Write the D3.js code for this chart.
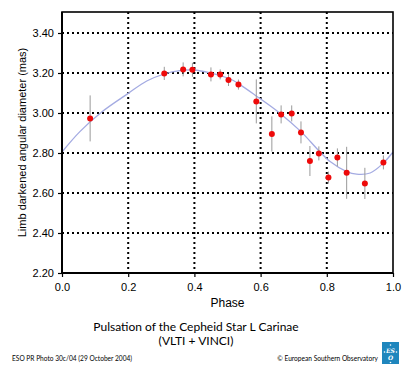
<!DOCTYPE html>
<html>
<head>
<meta charset="utf-8">
<script src="https://cdn.jsdelivr.net/npm/d3@7/dist/d3.min.js"></script>
<style>
  html, body { margin: 0; padding: 0; background: #fff; }
  svg { display: block; }
</style>
</head>
<body>
<svg id="chart" width="405" height="369"></svg>
<script>
// Interferometric measurements of L Carinae (VLTI + VINCI)
const phases   = [0.085, 0.309, 0.366, 0.394, 0.450, 0.478, 0.503, 0.533, 0.587, 0.634,
                  0.662, 0.694, 0.722, 0.749, 0.776, 0.805, 0.832, 0.860, 0.915, 0.971];
const diameters = [2.973, 3.198, 3.218, 3.216, 3.193, 3.193, 3.165, 3.142, 3.058, 2.895,
                   2.993, 2.998, 2.903, 2.760, 2.798, 2.677, 2.778, 2.701, 2.648, 2.753];
const errors   = [0.115, 0.033, 0.035, 0.035, 0.035, 0.025, 0.030, 0.025, 0.110, 0.088,
                  0.045, 0.040, 0.055, 0.075, 0.035, 0.030, 0.045, 0.130, 0.078, 0.035];

// Fitted pulsation model
const modelPhase = [0.0, 0.054, 0.120, 0.200, 0.256, 0.309, 0.356, 0.397, 0.447, 0.508,
                    0.533, 0.588, 0.659, 0.722, 0.774, 0.810, 0.860, 0.890, 0.931, 0.971, 1.0];
const modelDiam  = [2.805, 2.907, 3.005, 3.098, 3.160, 3.195, 3.212, 3.215, 3.201, 3.170,
                    3.147, 3.084, 2.998, 2.907, 2.815, 2.757, 2.707, 2.694, 2.700, 2.750, 2.805];

const xTicks = [0.0, 0.2, 0.4, 0.6, 0.8, 1.0];
const yTicks = [2.20, 2.40, 2.60, 2.80, 3.00, 3.20, 3.40];

const svg = d3.select("#chart");
const m = { left: 62, right: 393, top: 12, bottom: 273 };

const x = d3.scaleLinear().domain([0, 1]).range([m.left, m.right]);
const y = d3.scaleLinear().domain([2.2, 3.505]).range([m.bottom, m.top]);

const axisFont = "'Liberation Sans', Arial, sans-serif";

// dotted grid
const grid = svg.append("g");
grid.selectAll("line.h").data(yTicks.filter(d => d > 2.2)).join("line")
  .attr("x1", m.left).attr("x2", m.right)
  .attr("y1", d => y(d)).attr("y2", d => y(d))
  .attr("stroke", "#000").attr("stroke-width", 2).attr("stroke-dasharray", "2,3");
grid.selectAll("line.v").data(xTicks.filter(d => d > 0 && d < 1)).join("line")
  .attr("y1", m.top).attr("y2", m.bottom)
  .attr("x1", d => x(d)).attr("x2", d => x(d))
  .attr("stroke", "#000").attr("stroke-width", 2).attr("stroke-dasharray", "2,3");

// model curve
const line = d3.line().x((d, i) => x(modelPhase[i])).y(d => y(d)).curve(d3.curveCatmullRom);
svg.append("path").datum(modelDiam)
  .attr("d", line).attr("fill", "none")
  .attr("stroke", "#a4abe2").attr("stroke-width", 1.3);

// error bars
svg.append("g").selectAll("line").data(phases).join("line")
  .attr("x1", d => x(d)).attr("x2", d => x(d))
  .attr("y1", (d, i) => y(diameters[i] - errors[i]))
  .attr("y2", (d, i) => y(diameters[i] + errors[i]))
  .attr("stroke", "#9a9a9a").attr("stroke-width", 1);

// measurements
svg.append("g").selectAll("circle").data(phases).join("circle")
  .attr("cx", d => x(d)).attr("cy", (d, i) => y(diameters[i]))
  .attr("r", 3).attr("fill", "#ee0a0a");

// frame
svg.append("rect").attr("x", m.left).attr("y", m.top)
  .attr("width", m.right - m.left).attr("height", m.bottom - m.top)
  .attr("fill", "none").attr("stroke", "#000").attr("stroke-width", 1.6);

// axes
const yAxis = svg.append("g").attr("transform", `translate(${m.left},0)`)
  .call(d3.axisLeft(y).tickValues(yTicks).tickFormat(d3.format(".2f")).tickSize(4).tickPadding(4));
const xAxis = svg.append("g").attr("transform", `translate(0,${m.bottom})`)
  .call(d3.axisBottom(x).tickValues(xTicks).tickFormat(d3.format(".1f")).tickSize(4).tickPadding(6));
[yAxis, xAxis].forEach(g => {
  g.select(".domain").attr("stroke", "#000").attr("stroke-width", 2);
  g.selectAll(".tick line").attr("stroke", "#000").attr("stroke-width", 1.2);
  g.selectAll(".tick text").attr("font-family", axisFont).attr("font-size", 11).attr("fill", "#000");
});
yAxis.select(".domain").attr("d", `M0,${m.top}V${m.bottom}`);
xAxis.select(".domain").attr("d", `M${m.left},0H${m.right}`);

// axis titles
svg.append("text").attr("x", (m.left + m.right) / 2).attr("y", 307)
  .attr("text-anchor", "middle").attr("font-family", axisFont).attr("font-size", 12)
  .text("Phase");
svg.append("text")
  .attr("transform", `translate(26,${(m.top + m.bottom) / 2}) rotate(-90)`)
  .attr("text-anchor", "middle").attr("font-family", axisFont).attr("font-size", 11)
  .text("Limb darkened angular diameter (mas)");

// caption
const capFont = "Lato, 'Open Sans', sans-serif";
svg.append("text").attr("x", 196).attr("y", 330.5).attr("text-anchor", "middle")
  .attr("font-family", capFont).attr("font-size", 12).text("Pulsation of the Cepheid Star L Carinae");
svg.append("text").attr("x", 196).attr("y", 344.5).attr("text-anchor", "middle")
  .attr("font-family", capFont).attr("font-size", 12).text("(VLTI + VINCI)");

svg.append("text").attr("x", 12).attr("y", 361)
  .attr("font-family", capFont).attr("font-size", 6.6).text("ESO PR Photo 30c/04 (29 October 2004)");
svg.append("text").attr("x", 378).attr("y", 361).attr("text-anchor", "end")
  .attr("font-family", capFont).attr("font-size", 6.6).text("© European Southern Observatory");

// ESO logo
const logo = svg.append("g").attr("transform", "translate(382,342)");
logo.append("rect").attr("width", 17).attr("height", 22).attr("fill", "#1f86bd");
logo.append("text").attr("x", 8.5).attr("y", 10.5).attr("text-anchor", "middle")
  .attr("font-family", "'DejaVu Serif', serif").attr("font-size", 6).attr("font-style", "italic")
  .attr("font-weight", "bold").attr("fill", "#fff").text("ES");
logo.append("text").attr("x", 8.5).attr("y", 18).attr("text-anchor", "middle")
  .attr("font-family", "'DejaVu Serif', serif").attr("font-size", 6).attr("font-style", "italic")
  .attr("font-weight", "bold").attr("fill", "#fff").text("O");
logo.selectAll("circle").data([[8.5, 3], [2.5, 10], [14.5, 10], [8.5, 20.5]]).join("circle")
  .attr("cx", d => d[0]).attr("cy", d => d[1]).attr("r", 0.8).attr("fill", "#fff");
</script>
</body>
</html>
